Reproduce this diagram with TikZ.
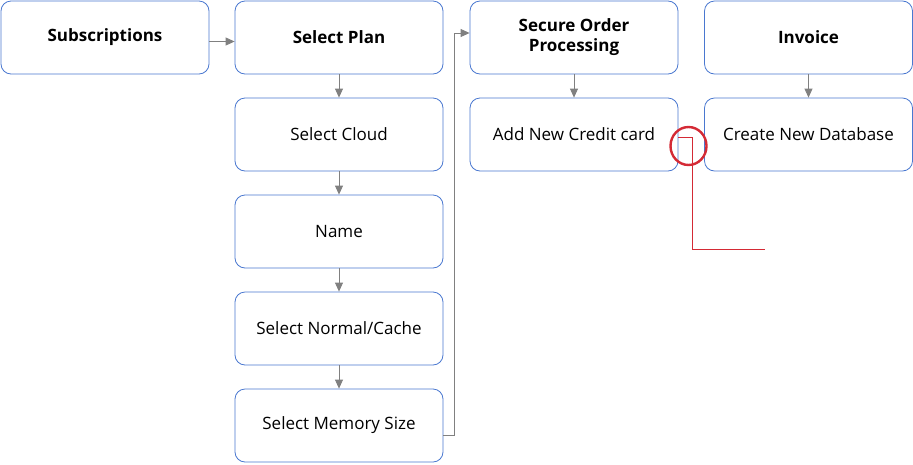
\documentclass[tikz,border=0pt]{standalone}
\usepackage{fontspec}
\setmainfont{Open Sans}
\usetikzlibrary{arrows.meta}
\definecolor{boxblue}{HTML}{4A78D0}
\definecolor{linkgray}{HTML}{808080}
\definecolor{markred}{HTML}{D42A35}
\begin{document}
\begin{tikzpicture}[x=1pt, y=-1pt,
    box/.style={draw=boxblue, line width=0.8pt, rounded corners=10pt, minimum width=208pt, minimum height=73pt, align=center, font=\fontsize{17}{20}\selectfont},
    head/.style={box, font=\fontsize{17}{20}\selectfont\bfseries},
    link/.style={draw=linkgray, line width=0.8pt, -{Triangle[length=9pt, width=8pt]}}]
    \useasboundingbox (0,0) rectangle (913,464);
    \node (subs) at (105,37.5) [head] {Subscriptions};
    \node (plan) at (339,37.5) [head] {Select Plan};
    \node (cloud) at (339,134.5) [box] {Select Cloud};
    \node (name) at (339,231.5) [box] {Name};
    \node (cache) at (339,328.5) [box] {Select Normal/Cache};
    \node (mem) at (339,425.5) [box] {Select Memory Size};
    \node (secure) at (574,37.5) [head] {Secure Order\\Processing};
    \node (card) at (574,134.5) [box] {Add New Credit card};
    \node (invoice) at (808.5,37.5) [head] {Invoice};
    \node (db) at (808.5,134.5) [box] {Create New Database};
    \draw[link] ([yshift=-4pt]subs.east) -- ([yshift=-4pt]plan.west);
    \draw[link] (plan) -- (cloud);
    \draw[link] (cloud) -- (name);
    \draw[link] (name) -- (cache);
    \draw[link] (cache) -- (mem);
    \coordinate (bend) at (454.5,435);
    \draw[link] ([yshift=-9.5pt]mem.east) -- (bend) |- ([yshift=4.5pt]secure.west);
    \draw[link] (secure) -- (card);
    \draw[link] (invoice) -- (db);
    % red mark
    \coordinate (mark) at (692,249);
    \draw[markred, line width=0.9pt] ([yshift=-2.5pt]card.east) -| (mark) -- ++(73,0);
    \draw[markred, line width=2.4pt] (688.5,146) ellipse [x radius=18, y radius=19];
\end{tikzpicture}
\end{document}
